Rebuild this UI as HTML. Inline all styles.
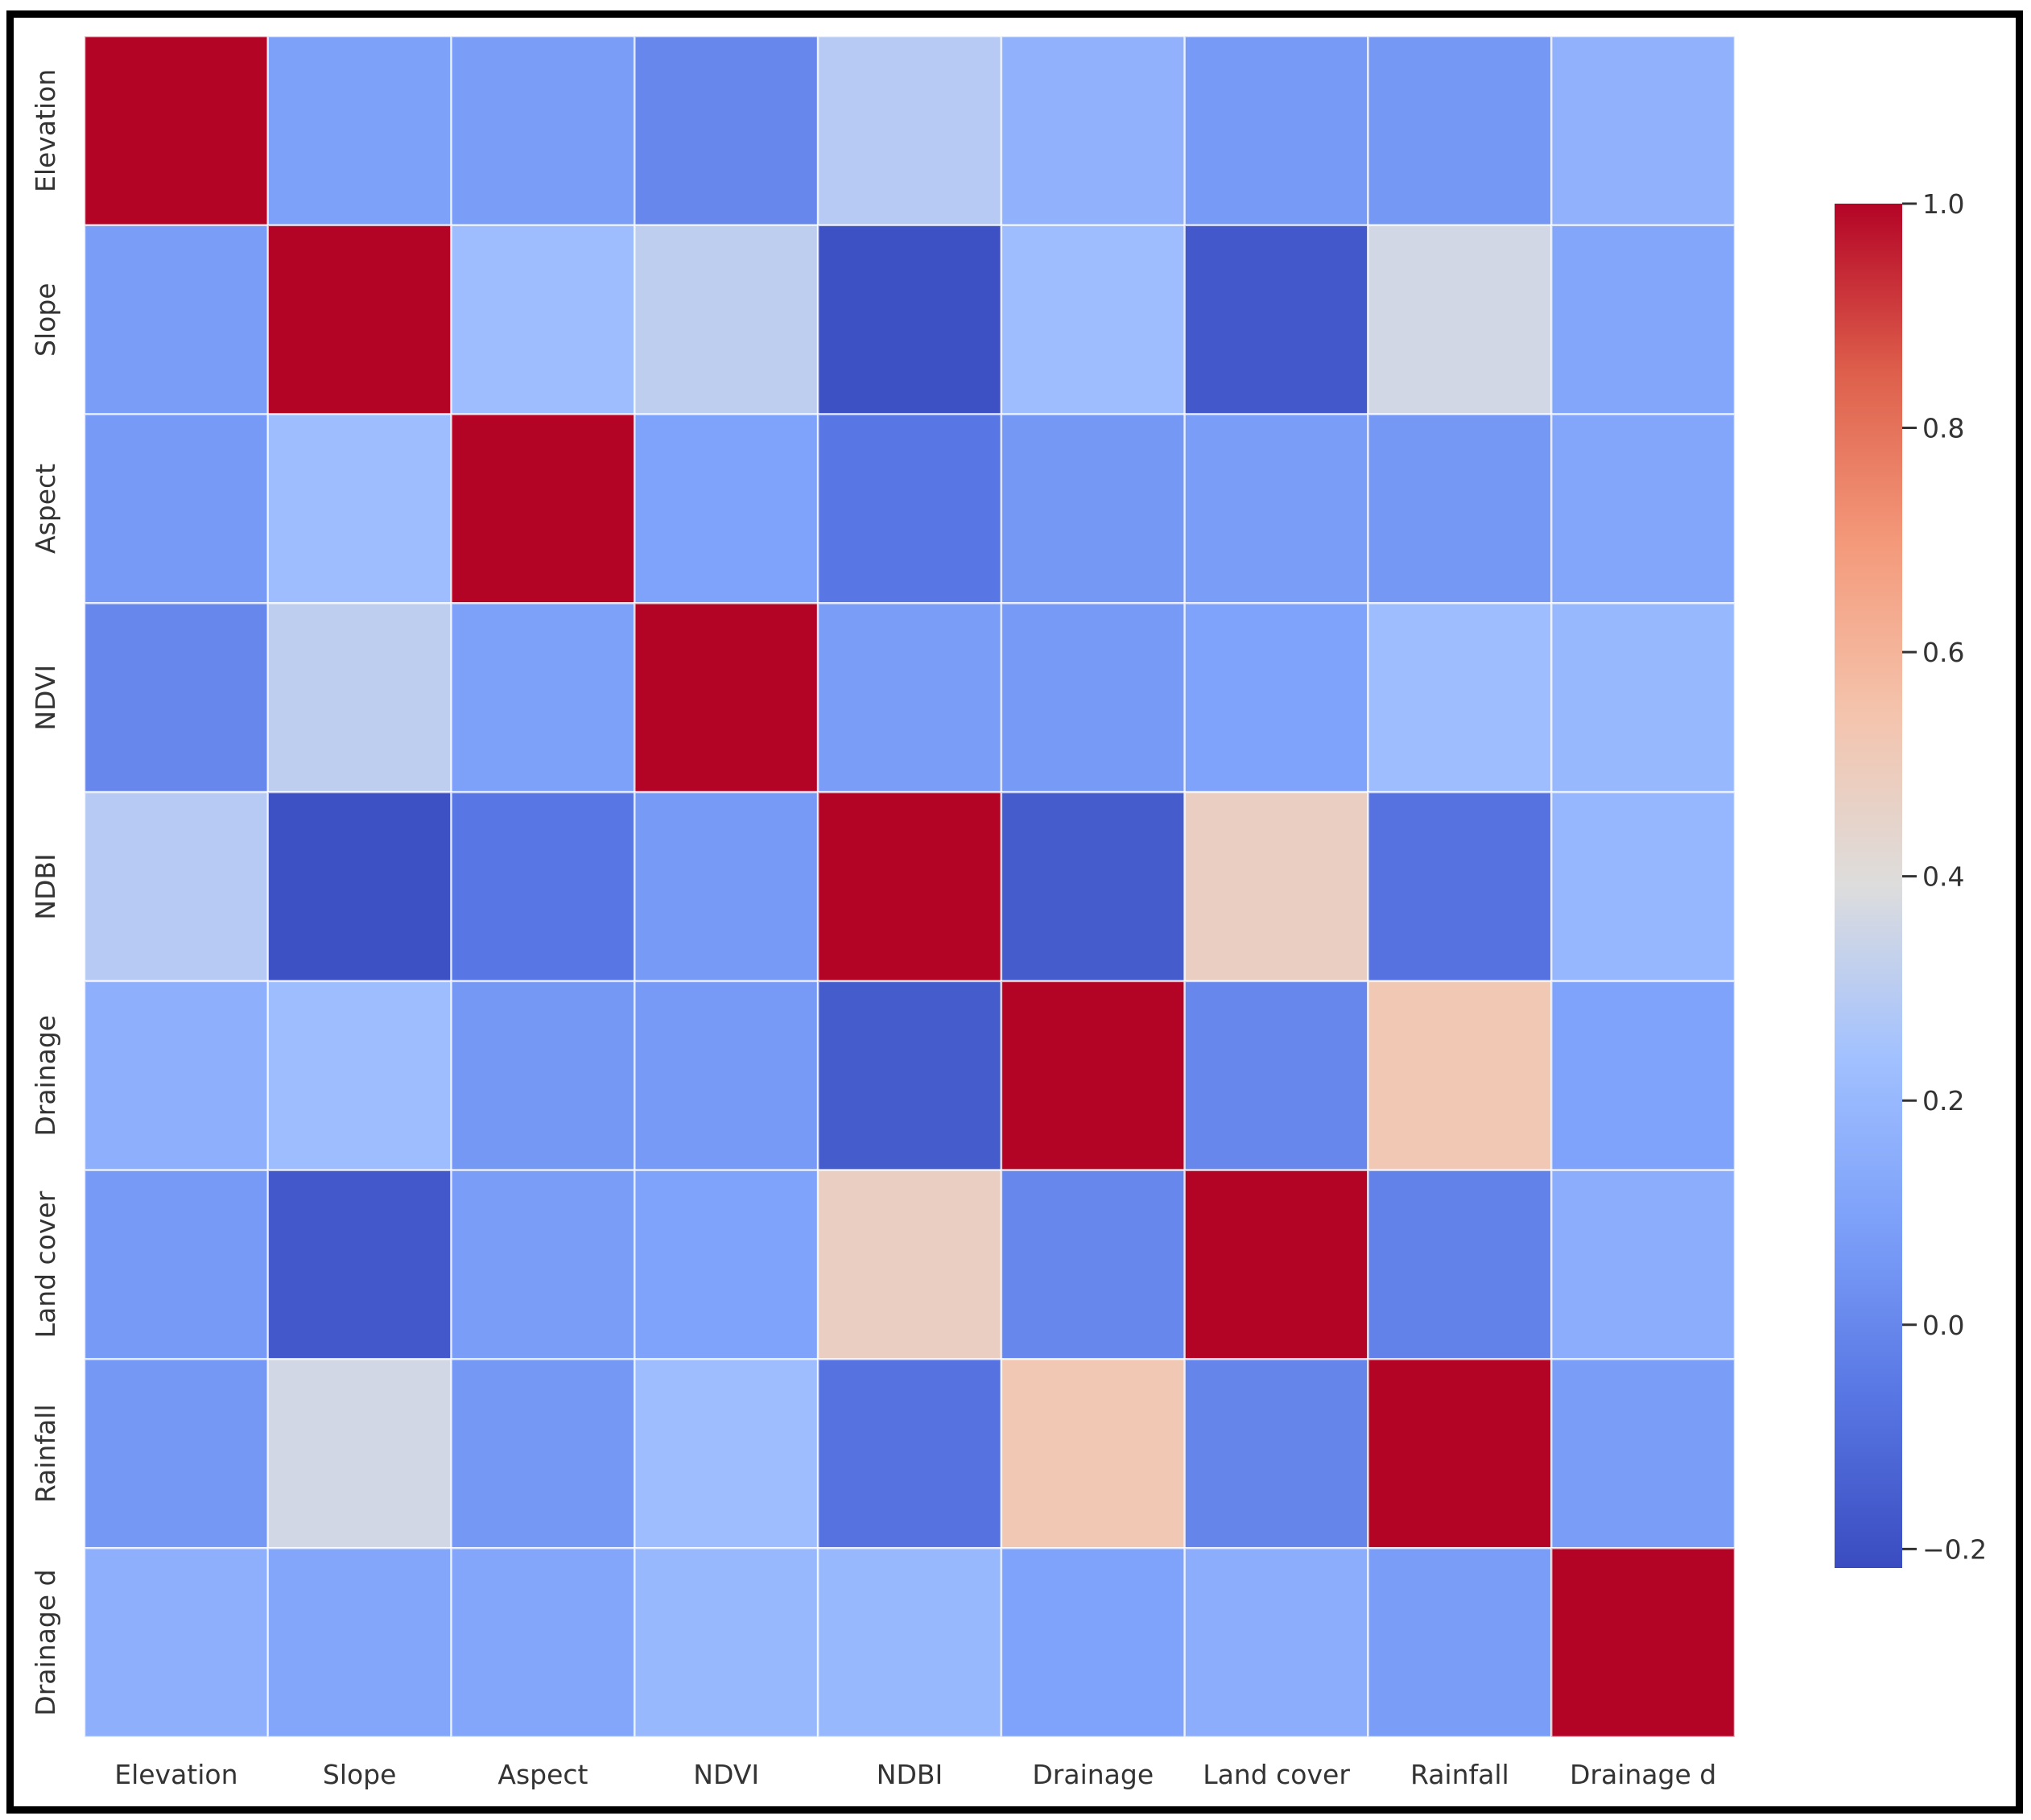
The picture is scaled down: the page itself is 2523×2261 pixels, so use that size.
<!DOCTYPE html>
<html><head><meta charset="utf-8"><style>
html,body{margin:0;padding:0;background:#fff;}
svg{display:block;font-family:"DejaVu Sans","Liberation Sans",sans-serif;}
</style></head><body>
<svg id="chart" width="2523" height="2261" viewBox="0 0 2523 2261" xmlns="http://www.w3.org/2000/svg">
<rect x="0" y="0" width="2523" height="2261" fill="#fff"/>
<rect x="12.5" y="17.5" width="2496" height="2231" fill="none" stroke="#000" stroke-width="9"/>
<g id="cells"></g>
<g id="xlabels"></g>
<g id="ylabels"></g>
<defs><linearGradient id="cbgrad" x1="0" y1="1" x2="0" y2="0"></linearGradient></defs>
<rect x="2279" y="253" width="84" height="1695" fill="url(#cbgrad)"/>
<g id="cbticks"></g>
</svg>
<script>
const categories = ["Elevation","Slope","Aspect","NDVI","NDBI","Drainage","Land cover","Rainfall","Drainage d"];
const rowElevation = [1, 0.09, 0.08, 0.0, 0.29, 0.17, 0.07, 0.06, 0.17];
const rowSlope     = [0.08, 1, 0.22, 0.31, -0.2, 0.22, -0.17, 0.36, 0.12];
const rowAspect    = [0.07, 0.22, 1, 0.1, -0.06, 0.06, 0.08, 0.06, 0.12];
const rowNDVI      = [0.0, 0.31, 0.09, 1, 0.08, 0.07, 0.1, 0.22, 0.2];
const rowNDBI      = [0.29, -0.2, -0.06, 0.07, 1, -0.16, 0.48, -0.08, 0.19];
const rowDrainage  = [0.16, 0.22, 0.06, 0.07, -0.16, 1, 0.0, 0.52, 0.1];
const rowLandCover = [0.07, -0.17, 0.08, 0.1, 0.48, 0.0, 1, -0.02, 0.15];
const rowRainfall  = [0.06, 0.36, 0.06, 0.22, -0.08, 0.52, -0.01, 1, 0.08];
const rowDrainageD = [0.16, 0.12, 0.12, 0.2, 0.2, 0.1, 0.15, 0.08, 1];
const matrix = [rowElevation,rowSlope,rowAspect,rowNDVI,rowNDBI,rowDrainage,rowLandCover,rowRainfall,rowDrainageD];
const cbTickValues = [1.0, 0.8, 0.6, 0.4, 0.2, 0.0, -0.2];
const cbTickLabels = ["1.0","0.8","0.6","0.4","0.2","0.0","\u22120.2"];
const vmin = -0.217, vmax = 1.0;

const NS = "http://www.w3.org/2000/svg";
const X0 = 105, X1 = 2155, Y0 = 45, Y1 = 2158;
const n = categories.length;
const cw = (X1 - X0) / n, ch = (Y1 - Y0) / n;
function xPos(i){ return X0 + i*cw; }
function yPos(i){ return Y0 + i*ch; }
const CB_TOP = 253, CB_BOT = 1948;
function cbY(v){ return CB_BOT - (v - vmin)/(vmax - vmin)*(CB_BOT - CB_TOP); }

const stops = [[0,[58,76,192]],[0.125,[88,118,227]],[0.25,[124,159,249]],[0.375,[162,193,255]],[0.5,[221,221,221]],[0.625,[244,196,173]],[0.75,[244,154,123]],[0.875,[222,96,76]],[1,[180,4,38]]];
function cmap(t){
  t = Math.max(0, Math.min(1, t));
  for (let k=0;k<stops.length-1;k++){
    const a=stops[k], b=stops[k+1];
    if (t<=b[0]){ const f=(t-a[0])/(b[0]-a[0]);
      const c=a[1].map((v,j)=>Math.round(v+(b[1][j]-v)*f));
      return "rgb("+c.join(",")+")"; }
  }
  return "rgb(180,4,38)";
}
function colorOf(v){ return cmap((v - vmin)/(vmax - vmin)); }

const cells = document.getElementById("cells");
for (let r=0;r<n;r++){
  for (let c=0;c<n;c++){
    const el = document.createElementNS(NS,"rect");
    el.setAttribute("x", xPos(c)); el.setAttribute("y", yPos(r));
    el.setAttribute("width", cw); el.setAttribute("height", ch);
    el.setAttribute("fill", colorOf(matrix[r][c]));
    el.setAttribute("stroke", "#fff"); el.setAttribute("stroke-opacity", "0.7"); el.setAttribute("stroke-width", "2.5");
    
    
    cells.appendChild(el);
  }
}
const xl = document.getElementById("xlabels");
const yl = document.getElementById("ylabels");
categories.forEach((name,i)=>{
  const t = document.createElementNS(NS,"text");
  t.setAttribute("x", xPos(i)+cw/2); t.setAttribute("y", 2216);
  t.setAttribute("text-anchor","middle"); t.setAttribute("font-size","33"); t.setAttribute("fill","#333");
  t.textContent = name;
  
  
  xl.appendChild(t);
  const u = document.createElementNS(NS,"text");
  const cx = 68, cy = yPos(i)+ch/2;
  u.setAttribute("x", cx); u.setAttribute("y", cy);
  u.setAttribute("transform","rotate(-90 "+cx+" "+cy+")");
  u.setAttribute("text-anchor","middle"); u.setAttribute("font-size","33"); u.setAttribute("fill","#333");
  u.textContent = name;
  
  
  yl.appendChild(u);
});
const grad = document.getElementById("cbgrad");
for (let k=0;k<=40;k++){
  const s = document.createElementNS(NS,"stop");
  s.setAttribute("offset", k/40); s.setAttribute("stop-color", cmap(k/40));
  grad.appendChild(s);
}
const cbt = document.getElementById("cbticks");
cbTickValues.forEach((v,i)=>{
  const y = cbY(v);
  const l = document.createElementNS(NS,"line");
  l.setAttribute("x1",2363); l.setAttribute("x2",2381); l.setAttribute("y1",y); l.setAttribute("y2",y);
  l.setAttribute("stroke","#333"); l.setAttribute("stroke-width","3");
  
  
  cbt.appendChild(l);
  const t = document.createElementNS(NS,"text");
  t.setAttribute("x",2388); t.setAttribute("y",y+12);
  t.setAttribute("font-size","33"); t.setAttribute("fill","#333");
  t.textContent = cbTickLabels[i];
  
  
  cbt.appendChild(t);
});
</script>
</body></html>
